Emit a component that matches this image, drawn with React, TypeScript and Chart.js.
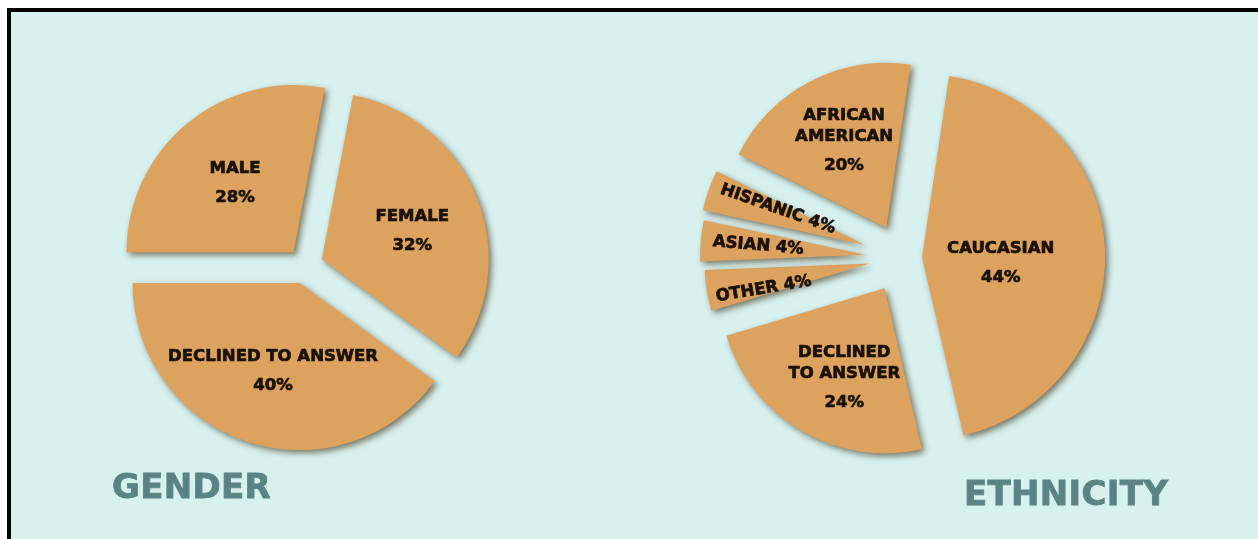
import React, { useEffect, useRef } from 'react';
import { Chart, registerables } from 'chart.js';

Chart.register(...registerables);

// ---------- data ----------
const genderCategories = ['MALE', 'FEMALE', 'DECLINED TO ANSWER'];
const genderValues = [28, 32, 40];
const genderLabelLines = [['MALE'], ['FEMALE'], ['DECLINED TO ANSWER']];

const ethnicityCategories = ['CAUCASIAN', 'DECLINED TO ANSWER', 'OTHER', 'ASIAN', 'HISPANIC', 'AFRICAN AMERICAN'];
const ethnicityValues = [44, 24, 4, 4, 4, 20];
const ethnicityLabelLines = [['CAUCASIAN'], ['DECLINED', 'TO ANSWER'], ['OTHER'], ['ASIAN'], ['HISPANIC'], ['AFRICAN', 'AMERICAN']];

const titles = ['GENDER', 'ETHNICITY'];

// ---------- style ----------
const SLICE = '#dca25e';
const BG = '#d7f1ef';
const TEXT = '#1a1209';
const TITLE = '#5b8385';

type PieStyle = {
  radius: number;
  disp: number[];
  scale: number[];
  frac: number[];
  dx: number[];
  dy: number[];
  rotate: boolean[];
  lines: string[][];
  values: number[];
};

const genderStyle: PieStyle = {
  radius: 167,
  disp: [18, 18, 18],
  scale: [1, 1, 1],
  frac: [0.55, 0.57, 0.55],
  dx: [0, 2, 2],
  dy: [2, 7, 1],
  rotate: [false, false, false],
  lines: genderLabelLines,
  values: genderValues,
};

const ethnicityStyle: PieStyle = {
  radius: 165,
  disp: [20, 35, 33, 37, 40, 34],
  scale: [1.11, 1, 1, 1, 1, 1],
  frac: [0.43, 0.63, 0.65, 0.65, 0.58, 0.58],
  dx: [0, 12, 0, 0, 4, 2],
  dy: [9, 0, 8, 0, -4, -2],
  rotate: [false, false, true, true, true, false],
  lines: ethnicityLabelLines,
  values: ethnicityValues,
};

function makePlugin(cfg: PieStyle) {
  return {
    id: 'pieStyle',
    afterDatasetUpdate(chart: any, args: any) {
      args.meta.data.forEach((el: any, i: number) => {
        const circ = el.circumference;
        const fix = 1 - Math.sin(Math.min(Math.PI, circ));
        const R = cfg.radius * cfg.scale[i];
        const rOff = cfg.disp[i] * fix;
        el.outerRadius = R - rOff;
        el.innerRadius = 0;
        const widen = rOff / (2 * Math.PI * R);
        el.startAngle -= widen;
        el.endAngle += widen;
      });
    },
    beforeDatasetsDraw(chart: any) {
      const ctx = chart.ctx;
      ctx.save();
      ctx.shadowColor = 'rgba(60,40,10,0.6)';
      ctx.shadowBlur = 6;
      ctx.shadowOffsetX = 3;
      ctx.shadowOffsetY = 3;
    },
    afterDatasetsDraw(chart: any) {
      const ctx = chart.ctx;
      ctx.restore();
      const meta = chart.getDatasetMeta(0);
      meta.data.forEach((el: any, i: number) => {
        const mid = (el.startAngle + el.endAngle) / 2;
        const vx = el.x + Math.cos(mid) * cfg.disp[i];
        const vy = el.y + Math.sin(mid) * cfg.disp[i];
        const r = cfg.radius * cfg.scale[i] * cfg.frac[i];
        const px = vx + Math.cos(mid) * r + cfg.dx[i];
        const py = vy + Math.sin(mid) * r + cfg.dy[i];
        const pct = cfg.values[i] + '%';
        ctx.save();
        ctx.translate(px, py);
        ctx.font = 'bold 16.5px "DejaVu Sans"';
        ctx.fillStyle = TEXT;
        ctx.strokeStyle = TEXT;
        ctx.lineWidth = 0.7;
        ctx.textAlign = 'center';
        ctx.textBaseline = 'middle';
        const draw = (t: string, x: number, y: number) => {
          ctx.fillText(t, x, y);
          ctx.strokeText(t, x, y);
        };
        if (cfg.rotate[i]) {
          ctx.rotate(mid - Math.PI);
          draw(cfg.lines[i].join(' ') + ' ' + pct, 0, 0);
        } else {
          const ys: number[] = [];
          let y = 0;
          cfg.lines[i].forEach(() => {
            ys.push(y);
            y += 21;
          });
          ys.push(y - 21 + 29);
          const offset = (ys[0] + ys[ys.length - 1]) / 2;
          cfg.lines[i].forEach((t, k) => draw(t, 0, ys[k] - offset));
          draw(pct, 0, ys[ys.length - 1] - offset);
        }
        ctx.restore();
      });
    },
  };
}

function PieCanvas(props: {
  labels: string[];
  values: number[];
  rotation: number;
  style: PieStyle;
  left: number;
  top: number;
  width: number;
  height: number;
}) {
  const ref = useRef<HTMLCanvasElement>(null);
  useEffect(() => {
    if (!ref.current) return;
    const chart = new Chart(ref.current, {
      type: 'pie',
      data: {
        labels: props.labels,
        datasets: [
          {
            data: props.values,
            backgroundColor: SLICE,
            borderWidth: 0,
            offset: props.style.disp.map((d) => d * 4),
          },
        ],
      },
      options: {
        responsive: false,
        maintainAspectRatio: false,
        animation: false,
        events: [],
        rotation: props.rotation,
        layout: { padding: 0 },
        plugins: {
          legend: { display: false },
          tooltip: { enabled: false },
        },
      },
      plugins: [makePlugin(props.style)],
    } as any);
    return () => chart.destroy();
  }, []);
  return (
    <canvas
      ref={ref}
      width={props.width}
      height={props.height}
      style={{ position: 'absolute', left: props.left, top: props.top, width: props.width, height: props.height }}
    />
  );
}

const titleStyle: React.CSSProperties = {
  position: 'absolute',
  font: 'bold 34px "DejaVu Sans"',
  lineHeight: '34px',
  color: TITLE,
  whiteSpace: 'nowrap',
  WebkitTextStroke: '0.8px ' + TITLE,
  letterSpacing: '0.3px',
};

export default function App() {
  return (
    <div style={{ position: 'absolute', left: 0, top: 0, width: 1258, height: 539, background: '#fff', overflow: 'hidden' }}>
      <div
        style={{
          position: 'absolute',
          left: 7,
          top: 8,
          width: 1251,
          height: 531,
          boxSizing: 'border-box',
          borderTop: '4px solid #000',
          borderLeft: '4px solid #000',
          background: BG,
        }}
      />
      <PieCanvas labels={genderCategories} values={genderValues} rotation={270} style={genderStyle} left={85} top={46} width={440} height={440} />
      <PieCanvas labels={ethnicityCategories} values={ethnicityValues} rotation={8.5} style={ethnicityStyle} left={652} top={18} width={500} height={480} />
      <div style={{ ...titleStyle, left: 112, top: 469 }}>{titles[0]}</div>
      <div style={{ ...titleStyle, left: 964, top: 476 }}>{titles[1]}</div>
    </div>
  );
}
